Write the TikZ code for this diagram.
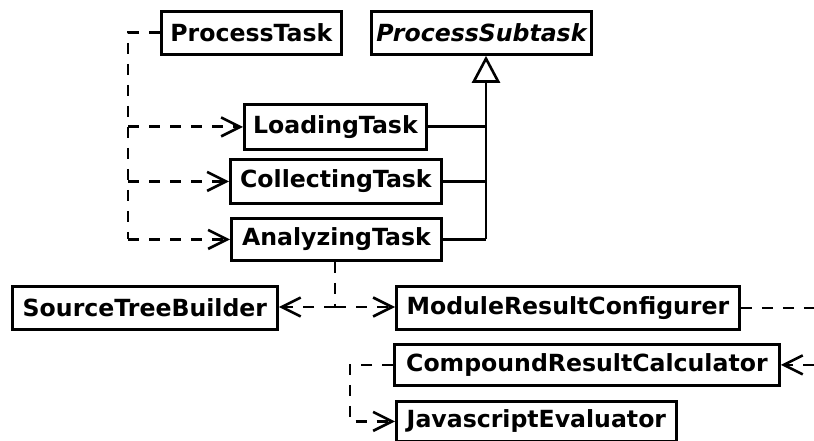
\documentclass[tikz,border=0pt]{standalone}
\usepackage{fontspec}
\setmainfont{DejaVu Sans}
\usetikzlibrary{arrows.meta}
\tikzset{
  cls/.style={draw, line width=2.8pt, rectangle, anchor=north west, inner sep=0pt,
    font=\fontsize{23.6}{28}\selectfont\bfseries},
  deplain/.style={line width=2.8pt, dash pattern=on 11pt off 10pt},
  dep/.style={deplain,
    -{Straight Barb[length=19pt,width=19pt,line width=2.6pt]}},
  gen/.style={line width=2.8pt},
}
\begin{document}
\begin{tikzpicture}[x=1pt,y=-1pt]
\useasboundingbox (0,0) rectangle (814,441);
% classes
\node[cls, minimum width=180pt, minimum height=43pt] (pt) at (160,10) {ProcessTask};
\node[cls, minimum width=220pt, minimum height=43pt] (ps) at (370,10) {\itshape ProcessSubtask};
\node[cls, minimum width=182pt, minimum height=45pt] (lt) at (243,103) {LoadingTask};
\node[cls, minimum width=211pt, minimum height=44pt] (ct) at (229,158) {CollectingTask};
\node[cls, minimum width=210pt, minimum height=42pt] (at) at (230,217) {AnalyzingTask};
\node[cls, minimum width=265pt, minimum height=43pt] (stb) at (11,285) {SourceTreeBuilder};
\node[cls, minimum width=343pt, minimum height=43pt] (mrc) at (395,285) {ModuleResultConfigurer};
\node[cls, minimum width=385pt, minimum height=41pt] (crc) at (393,343) {CompoundResultCalculator};
\node[cls, minimum width=280pt, minimum height=40pt] (je) at (395,400) {JavascriptEvaluator};
% helper points
\coordinate (bus) at (486,0);
\coordinate (lx) at (128,0);
\coordinate (fork) at (335,307);
\coordinate (rt) at (814,0);
\coordinate (cx) at (350,0);
% generalisation
\draw[gen] (lt.east) -- (lt.east -| bus);
\draw[gen] (ct.east) -- (ct.east -| bus);
\draw[gen] (at.east) -- (at.east -| bus);
\draw[gen, -{Triangle[open,length=27pt,width=28pt,line width=2.6pt]}]
  (at.east -| bus) -- (bus |- ps.south);
% dependencies from ProcessTask
\draw[deplain] (pt.west) -- (pt.west -| lx) -- (at.west -| lx);
\draw[dep] (lt.west -| lx) -- (lt.west);
\draw[dep] (ct.west -| lx) -- (ct.west);
\draw[dep] (at.west -| lx) -- (at.west);
% dependencies from AnalyzingTask
\draw[deplain] (at.south -| fork) -- (fork);
\draw[dep] (fork) -- (stb.east |- fork);
\draw[dep] (fork) -- (mrc.west |- fork);
% ModuleResultConfigurer to CompoundResultCalculator
\draw[deplain] (mrc.east) -- (mrc.east -| rt);
\draw[dep] (crc.east -| rt) -- (crc.east);
% CompoundResultCalculator to JavascriptEvaluator
\draw[dep] (crc.west) -- (crc.west -| cx) -- (je.west -| cx) -- (je.west);
\end{tikzpicture}
\end{document}
